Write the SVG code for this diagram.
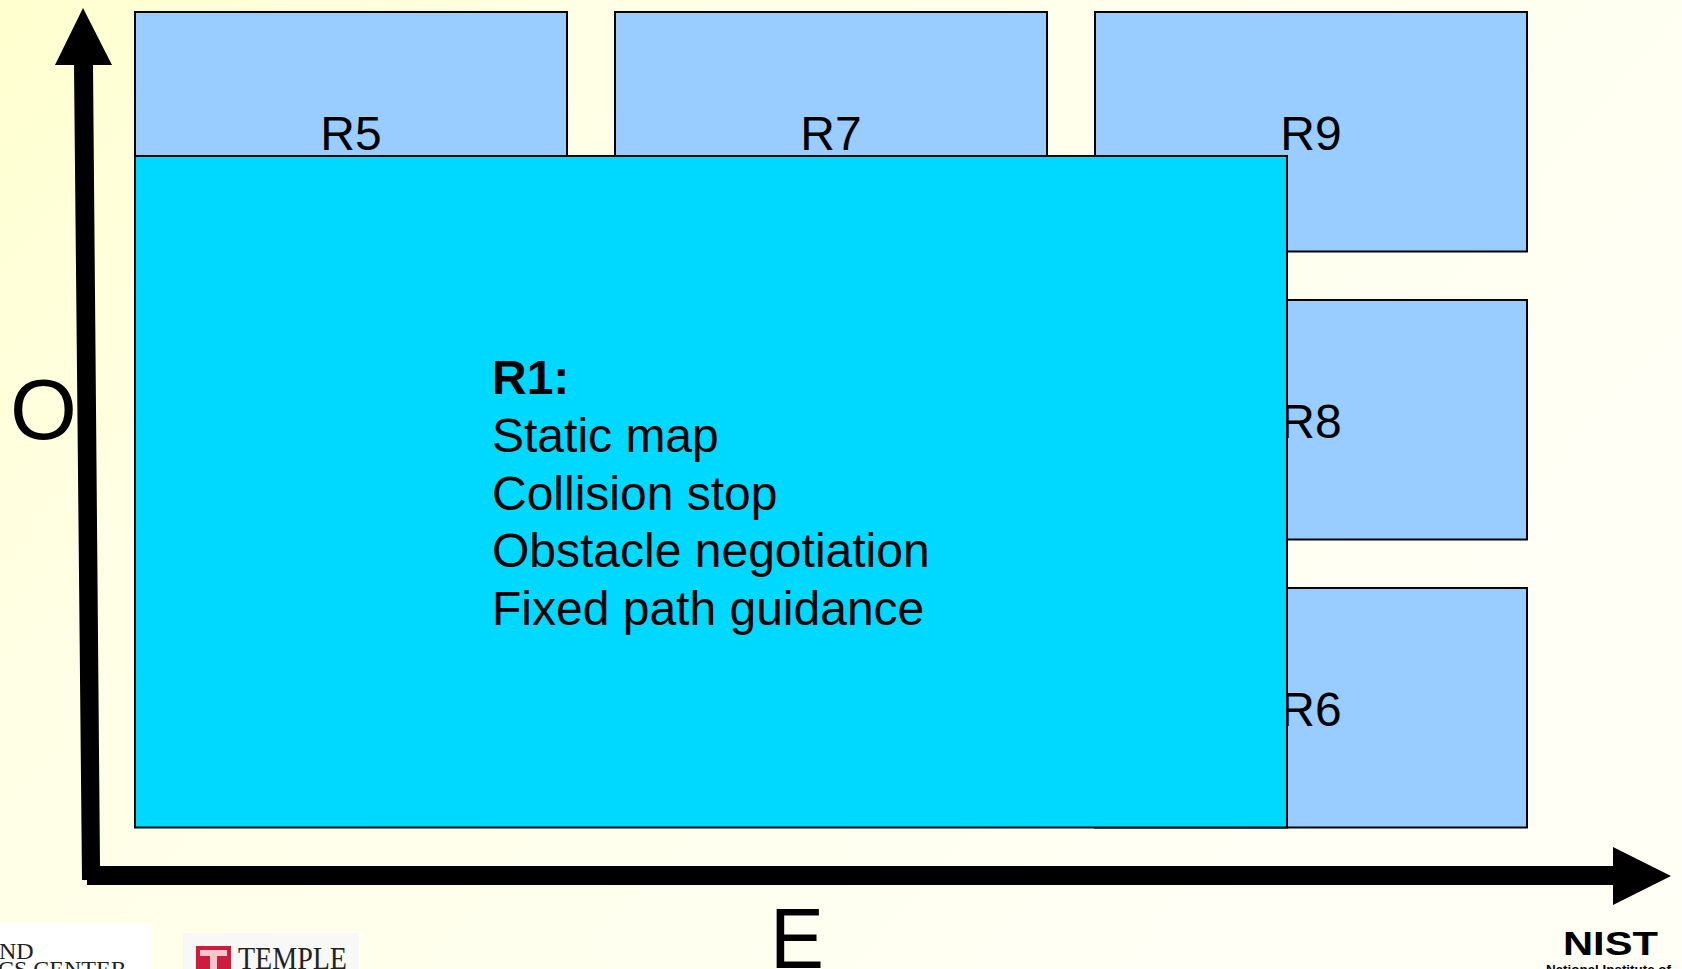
<svg xmlns="http://www.w3.org/2000/svg" width="1682" height="969" viewBox="0 0 1682 969">
<defs>
<linearGradient id="bg" x1="0" y1="0" x2="1" y2="0.5"><stop offset="0" stop-color="#ffffcf"/><stop offset="0.3" stop-color="#ffffe6"/><stop offset="1" stop-color="#fffff6"/></linearGradient>
</defs>
<style>
.r{fill:#99ccff;stroke:#000;stroke-width:2}
.c{fill:#00d9ff;stroke:#000;stroke-width:2}
text{font-family:"Liberation Sans",Arial,sans-serif;fill:#000}
.l{font-size:48px;text-anchor:middle}
.b{font-size:48px}
.a{font-size:86px}
.s{font-family:"Liberation Serif",serif;fill:#222}
</style>
<rect id="background" width="1682" height="969" fill="url(#bg)"/>
<g id="R5"><rect class="r" x="135" y="12" width="432" height="239.500"/><text class="l" x="351" y="150">R5</text></g>
<g id="R7"><rect class="r" x="615" y="12" width="432" height="239.500"/><text class="l" x="831" y="150">R7</text></g>
<g id="R9"><rect class="r" x="1095" y="12" width="432" height="239.500"/><text class="l" x="1311" y="150">R9</text></g>
<g id="R8"><rect class="r" x="1095" y="300" width="432" height="239.500"/><text class="l" x="1311" y="438">R8</text></g>
<g id="R6"><rect class="r" x="1095" y="588" width="432" height="239.500"/><text class="l" x="1311" y="726">R6</text></g>
<g id="R1"><rect class="c" x="135" y="156" width="1152" height="671.500"/>
<text class="b" x="492" y="394"><tspan font-weight="bold">R1:</tspan><tspan x="492" dy="57.800">Static map</tspan><tspan x="492" dy="57.800">Collision stop</tspan><tspan x="492" dy="57.800">Obstacle negotiation</tspan><tspan x="492" dy="57.800">Fixed path guidance</tspan></text></g>
<g id="connectors">
<path d="M83 8 L112 65 L93 65 L100 866 L1613 866 L1613 847 L1671 876 L1613 905 L1613 885 L87 885 L87 880 L82 880 L74 65 L55 65 Z" fill="#000"/>
</g>
<g id="axis-labels"><text class="a" x="10" y="439">O</text><text class="a" x="770" y="968" textLength="54" lengthAdjust="spacingAndGlyphs">E</text></g>
<g id="logos">
<rect x="0" y="923" width="151" height="46" fill="#fff"/>
<text class="s" x="-1" y="959" font-size="24">ND</text>
<text class="s" x="-2" y="977" font-size="24">CS CENTER</text>
<rect x="183" y="933" width="176" height="36" fill="#f8f8f6"/>
<rect x="196" y="946" width="35" height="23" fill="#d01c3c"/>
<path d="M200 950H227V956H217V969H210V956H200Z" fill="#f6c6cc"/>
<text class="s" x="238" y="969" font-size="31" textLength="109" lengthAdjust="spacingAndGlyphs">TEMPLE</text>
<text x="1563" y="955" font-size="34" font-weight="bold" textLength="95" lengthAdjust="spacingAndGlyphs">NIST</text>
<text x="1546" y="974" font-size="13.400" font-weight="bold">National Institute of</text>
</g>
</svg>
